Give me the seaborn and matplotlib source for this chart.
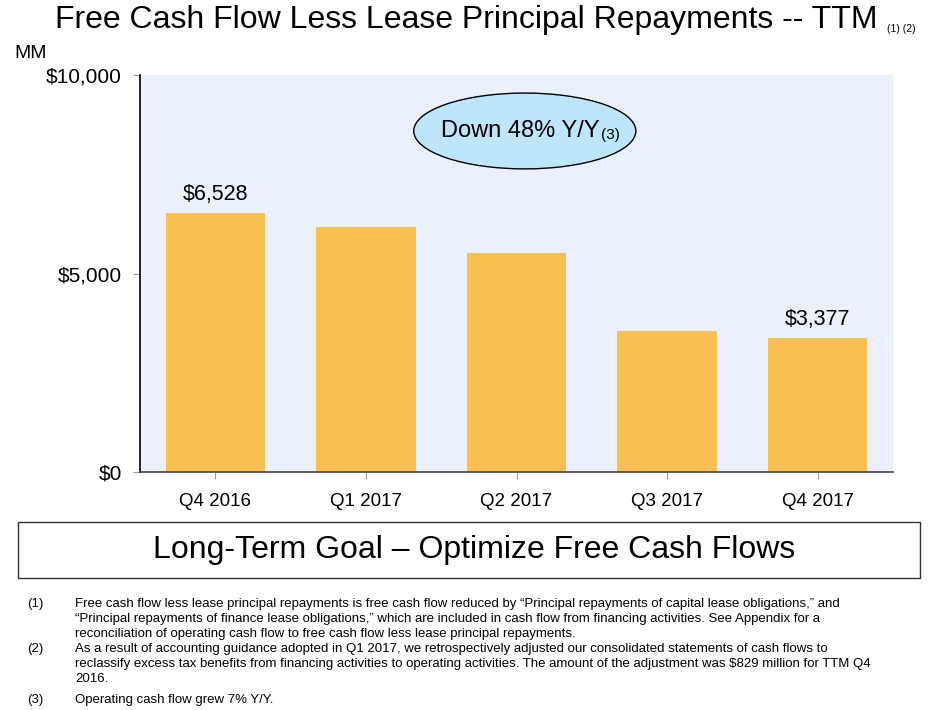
import matplotlib
matplotlib.use("Agg")
import matplotlib.pyplot as plt
import seaborn as sns
from matplotlib.patches import Ellipse, Rectangle
from matplotlib.ticker import FuncFormatter

quarters = ["Q4 2016", "Q1 2017", "Q2 2017", "Q3 2017", "Q4 2017"]
fcf = [6528, 6170, 5515, 3555, 3377]
bar_labels = ["$6,528", "", "", "", "$3,377"]
yticks = [0, 5000, 10000]
footnotes = [
    ("(1)", "Free cash flow less lease principal repayments is free cash flow reduced by \u201cPrincipal repayments of capital lease obligations,\u201d and\n"
            "\u201cPrincipal repayments of finance lease obligations,\u201d which are included in cash flow from financing activities. See Appendix for a\n"
            "reconciliation of operating cash flow to free cash flow less lease principal repayments."),
    ("(2)", "As a result of accounting guidance adopted in Q1 2017, we retrospectively adjusted our consolidated statements of cash flows to\n"
            "reclassify excess tax benefits from financing activities to operating activities. The amount of the adjustment was $829 million for TTM Q4\n"
            "2016."),
    ("(3)", "Operating cash flow grew 7% Y/Y."),
]

sns.set_style("white")
plt.rcParams["font.family"] = ["Liberation Sans", "DejaVu Sans"]
plt.rcParams["text.color"] = "black"
plt.rcParams["xtick.labelcolor"] = "black"
plt.rcParams["ytick.labelcolor"] = "black"

W, H = 939, 710
fig = plt.figure(figsize=(W / 100, H / 100), dpi=100)
ax = fig.add_axes([140 / W, (H - 472) / H, 753 / W, 397 / H])
ax.set_facecolor("#EAF1FC")

sns.barplot(x=quarters, y=fcf, color="#F9BF50", saturation=1, width=0.66,
            linewidth=0, ax=ax)
ax.bar_label(ax.containers[0], labels=bar_labels, padding=6, fontsize=15.5)

ax.set_xlim(-0.5, 4.5)
ax.set_ylim(0, 10000)
ax.set_yticks(yticks)
ax.yaxis.set_major_formatter(FuncFormatter(lambda v, p: f"${v:,.0f}"))
ax.tick_params(axis="both", length=5, color="#999999", direction="out",
               left=True, bottom=True)
ax.tick_params(axis="y", pad=8, labelsize=15)
ax.tick_params(axis="x", pad=10, labelsize=13.5)
ax.set_xlabel("")
ax.set_ylabel("")
for s in ["top", "right"]:
    ax.spines[s].set_visible(False)
ax.spines["left"].set_color("black")
ax.spines["left"].set_linewidth(1.2)
ax.spines["bottom"].set_color("#444444")
ax.spines["bottom"].set_linewidth(1.2)

# callout ellipse
ax.add_patch(Ellipse((0.511, 0.859), 0.295, 0.191, transform=ax.transAxes,
                     facecolor="#BDE6FA", edgecolor="black", linewidth=1))
t = ax.text(0.505, 0.859, "Down 48% Y/Y", transform=ax.transAxes, ha="center",
            va="center", fontsize=17)
ax.annotate("(3)", xy=(1, 0), xycoords=t, xytext=(1, 0), textcoords="offset points",
            fontsize=11, va="bottom", ha="left")

# title
fig.text(466 / W, 1 - 20 / H, "Free Cash Flow Less Lease Principal Repayments -- TTM",
         ha="center", va="center", fontsize=23)
fig.text(887 / W, 1 - 29 / H, "(1) (2)", ha="left", va="center", fontsize=7.5)
fig.text(14 / W, 1 - 53 / H, "MM", ha="left", va="center", fontsize=14)

# goal box
fig.patches.append(Rectangle((18 / W, 1 - 578 / H), 902 / W, 56 / H,
                             transform=fig.transFigure, facecolor="white",
                             edgecolor="#333333", linewidth=1))
fig.text(474 / W, 1 - 550 / H, "Long-Term Goal \u2013 Optimize Free Cash Flows",
         ha="center", va="center", fontsize=23)

# footnotes
y = 598
for num, body in footnotes:
    fig.text(27 / W, 1 - y / H, num, ha="left", va="top", fontsize=9.5)
    fig.text(75 / W, 1 - y / H, body, ha="left", va="top", fontsize=9.5, linespacing=1.32)
    y += 15 * (body.count("\n") + 1)
    if num == "(2)":
        y += 6

fig.savefig("out.png", dpi=100)
